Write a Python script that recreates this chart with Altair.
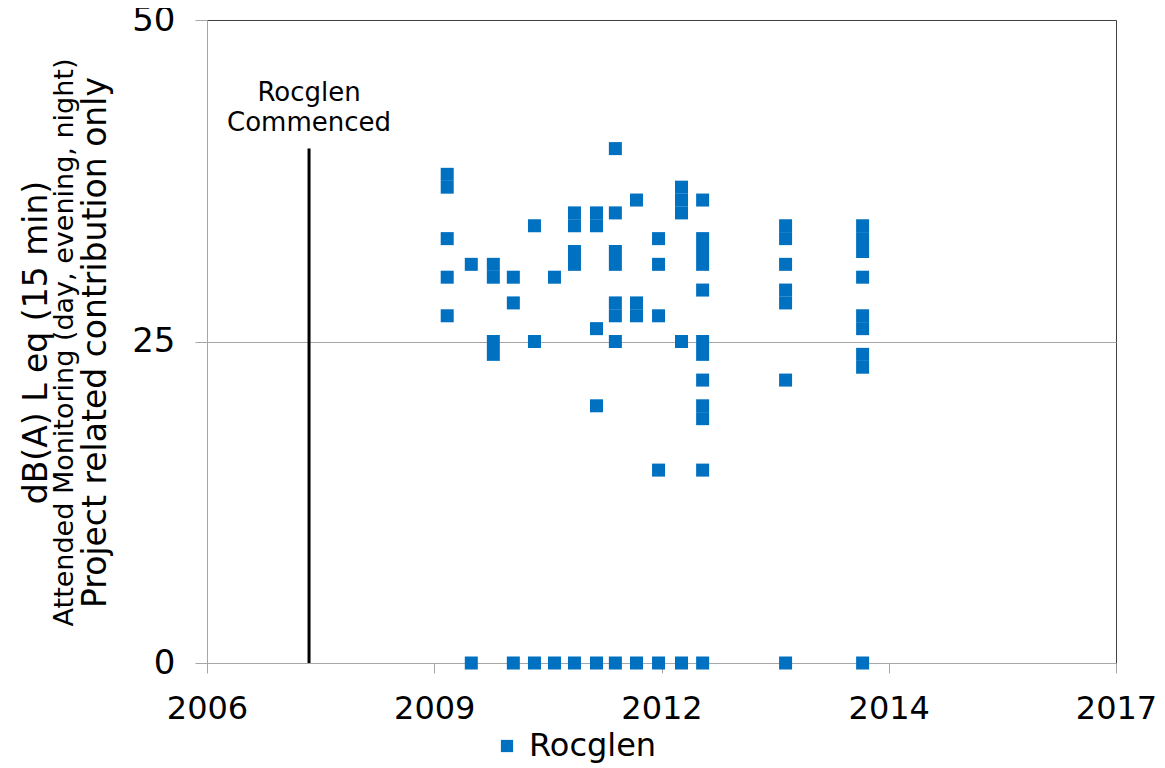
import altair as alt
import pandas as pd

# ---------------- data ----------------
sample_dates = [
    "2009-07-24", "2009-11-07", "2010-02-12", "2010-05-11", "2010-08-12",
    "2010-11-08", "2011-02-04", "2011-05-12", "2011-08-03", "2011-11-04",
    "2012-02-09", "2012-05-20", "2012-08-21", "2013-08-21", "2014-07-26",
]
levels = [
    [38, 37, 33, 30, 27],
    [31, 0],
    [31, 30, 25, 24],
    [30, 28, 0],
    [34, 25, 0],
    [30, 0],
    [35, 34, 32, 31, 0],
    [35, 34, 26, 20, 0],
    [40, 35, 32, 31, 28, 27, 25, 0],
    [36, 28, 27, 0],
    [33, 31, 27, 15, 0],
    [37, 36, 35, 25, 0],
    [36, 33, 32, 31, 29, 25, 24, 22, 20, 19, 15, 0],
    [34, 33, 31, 29, 28, 22, 0],
    [34, 33, 32, 30, 27, 26, 24, 23, 0],
]
series_name = "Rocglen"
commenced_date = "2007-11-24"
commenced_top = 40
commenced_label = ["Rocglen", "Commenced"]
x_tick_dates = [(2006, 9, 1), (2009, 5, 28), (2012, 2, 22), (2014, 11, 18), (2017, 8, 14)]
y_ticks = [0, 25, 50]
title_lines = [
    "dB(A) L eq (15 min)",
    "Attended Monitoring (day, evening, night)",
    "Project related contribution only",
]

# ---------------- build tables ----------------
rows = [
    {"date": d, "level": v, "series": series_name}
    for d, vals in zip(sample_dates, levels)
    for v in vals
]
df = pd.DataFrame(rows)
commenced_df = pd.DataFrame({"date": [commenced_date], "y0": [0], "y1": [commenced_top]})

FONT = "DejaVu Sans"
BLUE = "#0070C0"
W, H = 909, 643

tick_dt = [alt.DateTime(year=y, month=m, date=d) for (y, m, d) in x_tick_dates]
x_scale = alt.Scale(domain=[tick_dt[0], tick_dt[-1]])

x_axis = alt.Axis(
    values=tick_dt, format="%Y", title=None, grid=False,
    domainColor="#A6A6A6", tickColor="#A6A6A6", tickSize=10,
    labelFontSize=32, labelFont=FONT, labelColor="black", labelPadding=20,
    labelFlush=False, labelOverlap=False,
)
y_axis = alt.Axis(
    values=y_ticks, title=None,
    grid=True, gridColor="#A6A6A6",
    gridOpacity={"condition": {"test": "datum.value === 25", "value": 1}, "value": 0},
    domainColor="#A6A6A6", tickColor="#A6A6A6", tickSize=12,
    labelFontSize=34, labelFont=FONT, labelColor="black", labelPadding=20,
)

points = alt.Chart(df).mark_point(
    shape="square", filled=True, size=169, opacity=1
).encode(
    x=alt.X("date:T", scale=x_scale, axis=x_axis),
    y=alt.Y("level:Q", scale=alt.Scale(domain=[0, 50], nice=False), axis=y_axis),
    color=alt.Color(
        "series:N",
        scale=alt.Scale(range=[BLUE]),
        legend=alt.Legend(
            title=None, orient="none", legendX=284, legendY=710,
            symbolType="square", symbolSize=150, symbolStrokeWidth=0,
            labelFontSize=32, labelFont=FONT, labelColor="black",
            labelOffset=6, padding=0,
        ),
    ),
)

rule = alt.Chart(commenced_df).mark_rule(color="black", strokeWidth=3).encode(
    x="date:T", y="y0:Q", y2="y1:Q"
)

annot = alt.Chart(commenced_df).mark_text(
    font=FONT, fontSize=26, lineHeight=30, baseline="bottom", align="center",
    dy=-43, color="black",
).encode(x="date:T", y="y1:Q", text=alt.value(commenced_label))

title_layers = []
title_specs = [(title_lines[0], 33, -170),
               (title_lines[1], 27, -142),
               (title_lines[2], 33, -111)]
for txt, fs, xp in title_specs:
    title_layers.append(
        alt.Chart(pd.DataFrame({"t": [txt]})).mark_text(
            font=FONT, fontSize=fs, angle=270, align="center", baseline="middle",
            color="black",
        ).encode(x=alt.value(xp), y=alt.value(H / 2 + 1), text="t:N")
    )

chart = alt.layer(rule, annot, points, *title_layers).properties(
    width=W, height=H,
    autosize=alt.AutoSizeParams(type="none"),
    padding={"left": 199, "top": 12, "right": 41, "bottom": 100},
).configure_view(stroke="#404040", strokeWidth=1)

chart.save("out.html", embed_options={"renderer": "svg", "actions": False})
